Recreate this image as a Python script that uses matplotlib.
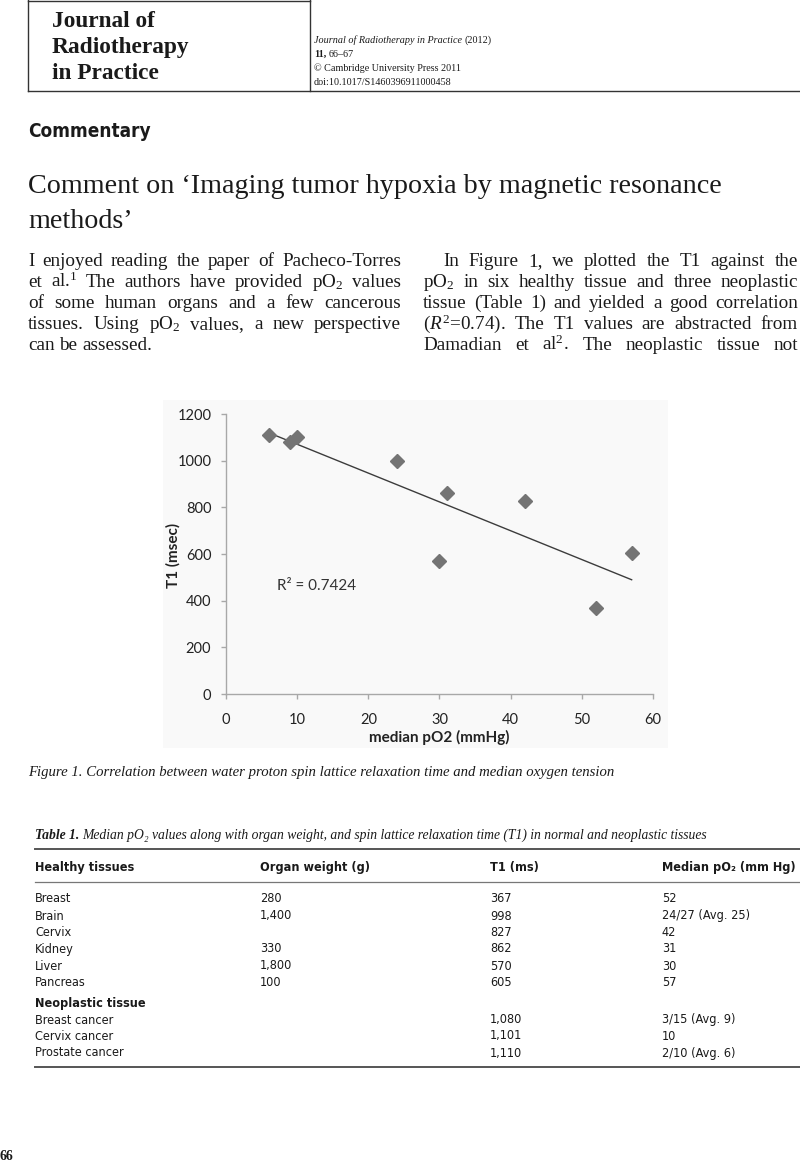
import numpy as np
import matplotlib
matplotlib.use("Agg")
import matplotlib.pyplot as plt
from matplotlib import font_manager as fm
from matplotlib.patches import Rectangle

plt.rcParams['mathtext.fontset'] = 'custom'
plt.rcParams['mathtext.rm'] = 'Liberation Serif'
plt.rcParams['mathtext.it'] = 'Liberation Serif:italic'
plt.rcParams['mathtext.bf'] = 'Liberation Serif:bold'

SERIF = ['Liberation Serif', 'DejaVu Serif']
CHART = ['Lato', 'DejaVu Sans']
INK = '#1a1a1a'


def pick_narrow():
    # the table uses a condensed sans; take whatever narrow face is installed
    names = {f.name for f in fm.fontManager.ttflist}
    if 'Liberation Sans Narrow' in names:
        return dict(family=['Liberation Sans Narrow', 'DejaVu Sans'])
    for f in fm.fontManager.ttflist:
        if f.stretch in ('condensed', 'semi-condensed', 'extra-condensed'):
            return dict(family=[f.name, 'DejaVu Sans'], stretch=f.stretch)
    return dict(family=['Liberation Sans', 'DejaVu Sans'])


NARROW = pick_narrow()

# figure 1 values
po2 = [6, 9, 10, 24, 31, 42, 30, 52, 57]
t1 = [1110, 1080, 1101, 998, 862, 827, 570, 367, 605]
r2_label = 'R² = 0.7424'
x_ticks = [0, 10, 20, 30, 40, 50, 60]
y_ticks = [0, 200, 400, 600, 800, 1000, 1200]

# table 1
tab_head = ['Healthy tissues', 'Organ weight (g)', 'T1 (ms)', 'Median pO₂ (mm Hg)']
healthy = ['Breast', 'Brain', 'Cervix', 'Kidney', 'Liver', 'Pancreas']
healthy_weight = ['280', '1,400', '', '330', '1,800', '100']
healthy_t1 = ['367', '998', '827', '862', '570', '605']
healthy_po2 = ['52', '24/27 (Avg. 25)', '42', '31', '30', '57']
neo_title = 'Neoplastic tissue'
neo = ['Breast cancer', 'Cervix cancer', 'Prostate cancer']
neo_t1 = ['1,080', '1,101', '1,110']
neo_po2 = ['3/15 (Avg. 9)', '10', '2/10 (Avg. 6)']

# body text, one entry per printed line
left_col = [
    'I enjoyed reading the paper of Pacheco-Torres',
    'et al.$^1$ The authors have provided pO$_2$ values',
    'of some human organs and a few cancerous',
    'tissues. Using pO$_2$ values, a new perspective',
    'can be assessed.',
]
right_col = [
    'In Figure 1, we plotted the T1 against the',
    'pO$_2$ in six healthy tissue and three neoplastic',
    'tissue (Table 1) and yielded a good correlation',
    '($R^2$=0.74). The T1 values are abstracted from',
    'Damadian et al$^2$. The neoplastic tissue not',
]

fig = plt.figure(figsize=(8, 11.63), dpi=100)
page = fig.add_axes([0, 0, 1, 1])
page.set_xlim(0, 800)
page.set_ylim(1163, 0)
page.axis('off')
rend = fig.canvas.get_renderer()


def text_w(t):
    return t.get_window_extent(renderer=rend).width


def runs(x, y, parts, width=None, size=10, gap=0.25, **kw):
    texts = [page.text(x, y, s, fontsize=size, color=INK, **kw, **p) for s, p in parts]

    def layout():
        xx = x
        for i, t in enumerate(texts):
            t.set_x(xx)
            xx += text_w(t)
            if i < len(texts) - 1:
                xx += gap * t.get_fontsize() * 100 / 72
        return xx - x

    total = layout()
    if width:
        f = width / total
        for t in texts:
            t.set_fontsize(t.get_fontsize() * f)
        layout()
    return texts


def fit(x, y, s, width, **kw):
    return runs(x, y, [(s, {})], width=width, **kw)[0]


def natural_w(line, size):
    t = page.text(0, 0, line, fontsize=size, family=SERIF)
    w = text_w(t)
    t.remove()
    return w


def justify(x0, x1, y, line, size, last=False):
    words = line.split(' ')
    ts = [page.text(0, y, w, fontsize=size, family=SERIF, color=INK,
                    va='baseline') for w in words]
    ws = [text_w(t) for t in ts]
    space = 0.25 * size * 100 / 72
    if not last and len(ts) > 1:
        space = (x1 - x0 - sum(ws)) / (len(ts) - 1)
    x = x0
    for t, w in zip(ts, ws):
        t.set_x(x)
        x += w + space


# header box
page.plot([28, 28], [0, 91], color='#333333', lw=1)
page.plot([310, 310], [0, 91], color='#333333', lw=1)
page.plot([28, 310], [0.6, 0.6], color='#333333', lw=1)
page.plot([28, 800], [91, 91], color='#333333', lw=1)

jt = fit(52, 53, 'Radiotherapy', 138, family=SERIF, weight='bold', va='baseline')
js = jt.get_fontsize()
page.text(52, 27, 'Journal of', fontsize=js, family=SERIF, weight='bold', color=INK, va='baseline')
page.text(52, 79, 'in Practice', fontsize=js, family=SERIF, weight='bold', color=INK, va='baseline')

hdr = runs(314, 43, [('Journal of Radiotherapy in Practice', {'style': 'italic'}), ('(2012)', {})],
           width=176, family=SERIF, va='baseline')
hs = hdr[0].get_fontsize()
runs(314, 57, [('11,', {'weight': 'bold'}), ('66–67', {})], size=hs, family=SERIF, va='baseline')
page.text(314, 71, '© Cambridge University Press 2011', fontsize=hs, family=SERIF, color=INK, va='baseline')
page.text(314, 85, 'doi:10.1017/S1460396911000458', fontsize=hs, family=SERIF, color=INK, va='baseline')

# section label and title
fit(28, 137, 'Commentary', 121, **NARROW, weight='bold', va='baseline')
tt = fit(28, 193, 'Comment on ‘Imaging tumor hypoxia by magnetic resonance', 692,
         family=SERIF, va='baseline')
page.text(28, 228, 'methods’', fontsize=tt.get_fontsize(), family=SERIF, color=INK, va='baseline')

# body columns, sized so the widest line nearly fills its column
ratios = []
for lines, first_x, x0, x1 in [(left_col, 28, 28, 401), (right_col, 443, 423, 798)]:
    for i, line in enumerate(lines):
        if lines is left_col and i == len(lines) - 1:
            continue
        start = first_x if i == 0 else x0
        ratios.append((x1 - start) / natural_w(line, 10))
body_size = 10 * min(ratios) * 0.95

base = [266, 287, 308, 329, 350]
for i, line in enumerate(left_col):
    justify(28, 401, base[i], line, body_size, last=(i == len(left_col) - 1))
for i, line in enumerate(right_col):
    justify(443 if i == 0 else 423, 798, base[i], line, body_size)

# figure 1
page.add_patch(Rectangle((163, 400), 505, 348, facecolor='#f9f9f9', edgecolor='none', zorder=0))
ax = fig.add_axes([226 / 800, 1 - 694 / 1163, 427 / 800, 280 / 1163])
ax.set_facecolor('none')
ax.set_xlim(0, 60)
ax.set_ylim(0, 1200)
ax.set_xticks(x_ticks)
ax.set_yticks(y_ticks)
for side in ['top', 'right']:
    ax.spines[side].set_visible(False)
for side in ['left', 'bottom']:
    ax.spines[side].set_color('#a8a8a8')
    ax.spines[side].set_linewidth(1)
ax.tick_params(axis='both', color='#a8a8a8', length=3.6, width=1, labelsize=10.5, labelcolor='#222222')
ax.tick_params(axis='x', pad=10)
ax.tick_params(axis='y', pad=7)
for lab in ax.get_xticklabels() + ax.get_yticklabels():
    lab.set_family(CHART)

slope, icept = np.polyfit(po2, t1, 1)
xs = np.array([min(po2), max(po2)])
ax.plot(xs, slope * xs + icept, color='#3c3c3c', lw=1, zorder=2)
ax.plot(po2, t1, 'D', ms=7.2, color='#747474', mec='#747474', zorder=3)
ax.text(7.2, 463, r2_label, fontsize=11, family=CHART, color='#333333', va='center')
ax.text(0.5, -(737 - 694) / 280, 'median pO2 (mmHg)', transform=ax.transAxes, ha='center',
        va='center', fontsize=11, weight='bold', family=CHART, color='#222222')
ax.text((173 - 226) / 427, (694 - 555) / 280, 'T1 (msec)', transform=ax.transAxes, ha='center',
        va='center', rotation=90, fontsize=11, weight='bold', family=CHART, color='#222222')

fit(28, 776, 'Figure 1. Correlation between water proton spin lattice relaxation time and median oxygen tension',
    587, family=SERIF, style='italic', va='baseline')

# table 1
runs(35, 839, [('Table 1.', {'weight': 'bold'}),
               ('Median pO₂ values along with organ weight, and spin lattice relaxation time (T1) in normal and neoplastic tissues', {})],
     width=673, family=SERIF, style='italic', va='baseline')
page.plot([35, 800], [849, 849], color='#555555', lw=1.4)
page.plot([35, 800], [882, 882], color='#777777', lw=0.9)
page.plot([35, 800], [1067, 1067], color='#555555', lw=1.4)

col_x = [35, 260, 490, 662]
th = fit(col_x[0], 867, tab_head[0], 99, **NARROW, weight='bold', va='center')
ts = th.get_fontsize()
for cx, h in zip(col_x[1:], tab_head[1:]):
    page.text(cx, 867, h, fontsize=ts, **NARROW, weight='bold', color=INK, va='center')

row_y = [899, 916, 932, 949, 966, 982]
for i, y in enumerate(row_y):
    for cx, val in zip(col_x, [healthy[i], healthy_weight[i], healthy_t1[i], healthy_po2[i]]):
        page.text(cx, y, val, fontsize=ts, **NARROW, color=INK, va='center')
page.text(col_x[0], 1003, neo_title, fontsize=ts, **NARROW, weight='bold', color=INK, va='center')
neo_y = [1020, 1036, 1053]
for i, y in enumerate(neo_y):
    for cx, val in zip([col_x[0], col_x[2], col_x[3]], [neo[i], neo_t1[i], neo_po2[i]]):
        page.text(cx, y, val, fontsize=ts, **NARROW, color=INK, va='center')

page.text(0, 1156, '66', fontsize=10, family=SERIF, weight='bold', color=INK, va='center')

fig.savefig('out.png', dpi=100)
